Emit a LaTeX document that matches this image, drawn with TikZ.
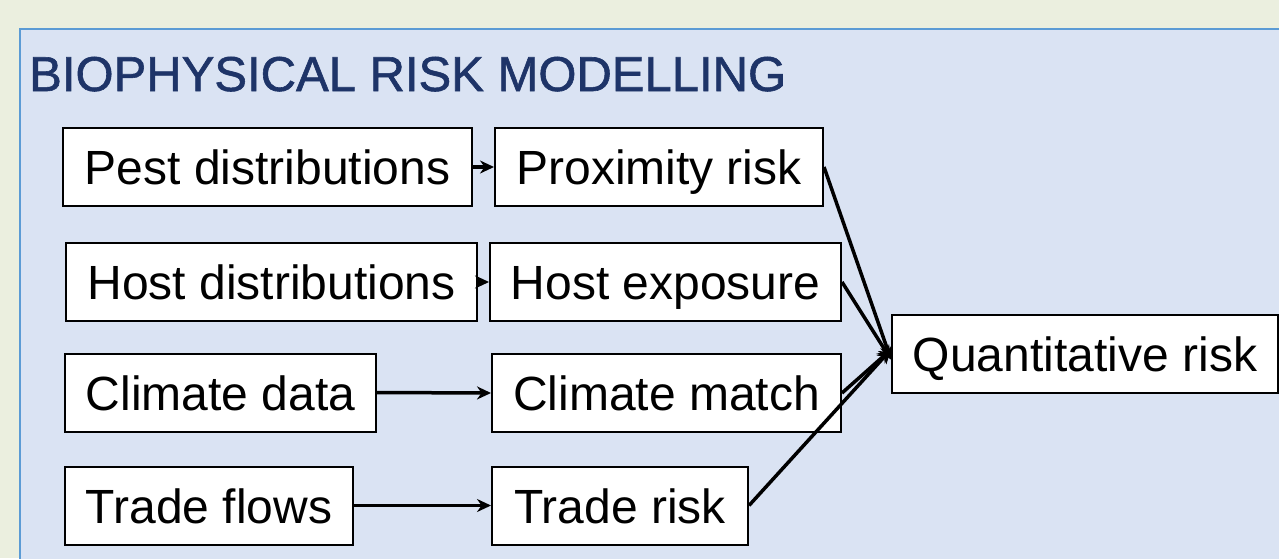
\documentclass[tikz,border=0pt]{standalone}
\usepackage{fontspec}
\setmainfont{Liberation Sans}
\usetikzlibrary{arrows.meta}
\newlength{\du}
\setlength{\du}{1pt}
\definecolor{pagecolor}{RGB}{235,239,223}
\definecolor{panelcolor}{RGB}{218,227,243}
\definecolor{panellinecolor}{RGB}{91,155,213}
\definecolor{titlecolor}{RGB}{30,52,104}
\tikzset{
  riskbox/.style={draw=black, fill=white, line width=2\du, inner sep=0pt,
    minimum height=78\du, text height=35\du, text depth=0\du,
    font=\fontsize{48\du}{56\du}\selectfont},
  riskarrow/.style={draw=black, line width=3.5\du, -{Stealth[length=14pt,width=13pt]}},
}
\begin{document}
\begin{tikzpicture}[yscale=-1]
\fill[pagecolor] (0\du,0\du) rectangle (1279\du,558\du);
\useasboundingbox (0\du,0\du) rectangle (1279\du,558\du);
% panel
\fill[panelcolor] (20\du,29\du) rectangle (1290\du,570\du);
\draw[panellinecolor, line width=2\du] (20\du,570\du)--(20\du,29\du)--(1290\du,29\du);
\node[anchor=base west, inner sep=0pt, text=titlecolor,
  font=\fontsize{49\du}{56\du}\selectfont\addfontfeature{FakeBold=1.2}] (title) at (29\du,91\du){BIOPHYSICAL RISK MODELLING};
% inputs
\node[riskbox, minimum width=409\du] (pestdist) at (267.5\du,167\du){Pest distributions};
\node[riskbox, minimum width=411\du] (hostdist) at (271.5\du,282\du){Host distributions};
\node[riskbox, minimum width=311\du] (climdata) at (220.5\du,392.5\du){Climate data};
\node[riskbox, minimum width=288\du] (tradeflow) at (209\du,505.5\du){Trade flows};
% intermediate risks
\node[riskbox, minimum width=328\du] (proxrisk) at (659\du,167\du){Proximity risk};
\node[riskbox, minimum width=351\du] (hostexp) at (665.5\du,282\du){Host exposure};
\node[riskbox, minimum width=349\du] (climmatch) at (666.5\du,393\du){Climate match};
\node[riskbox, minimum width=256\du] (traderisk) at (620\du,505.5\du){Trade risk};
% output
\node[riskbox, minimum width=386\du] (quantrisk) at (1085\du,353.5\du){Quantitative risk};
% connectors
\draw[riskarrow] (pestdist.east)--(proxrisk.west);
\draw[riskarrow] (hostdist.east)--(hostexp.west);
\draw[riskarrow] (climdata.east)--(climmatch.west);
\draw[riskarrow] (tradeflow.east)--(traderisk.west);
\draw[riskarrow] (proxrisk.east)--([yshift=6pt]quantrisk.west);
\draw[riskarrow] (hostexp.east)--([yshift=6pt]quantrisk.west);
\draw[riskarrow] (climmatch.east)--([yshift=-4pt]quantrisk.west);
\draw[riskarrow] (traderisk.east)--([yshift=-4pt]quantrisk.west);
\end{tikzpicture}
\end{document}
